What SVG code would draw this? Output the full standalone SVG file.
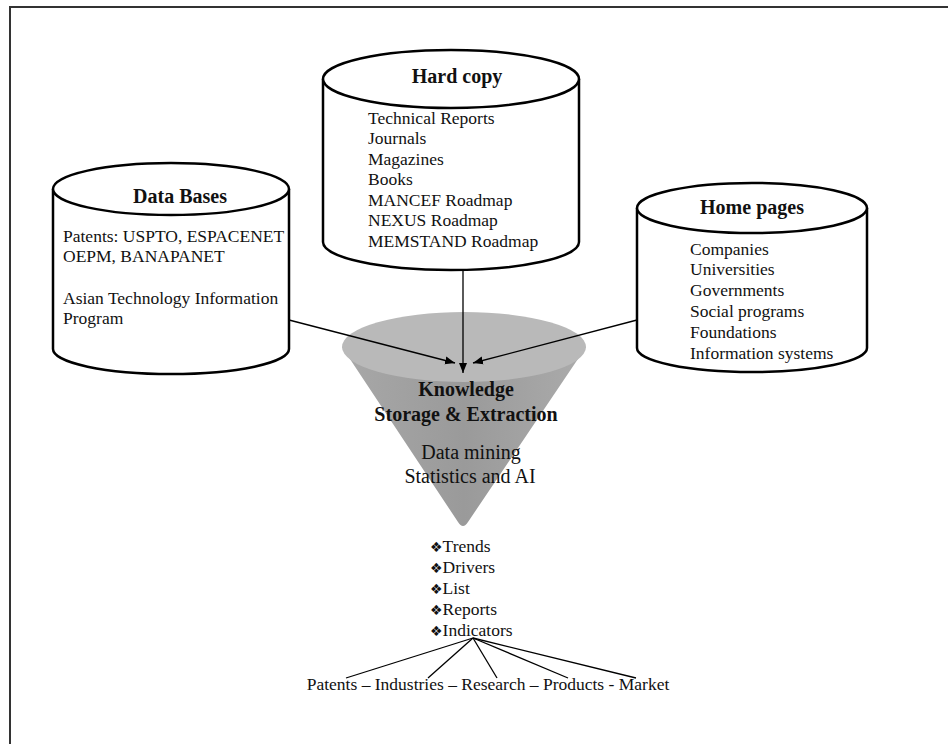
<svg xmlns="http://www.w3.org/2000/svg" width="948" height="744" viewBox="0 0 948 744">
<style>
.cyl{fill:#fff;stroke:#000;stroke-width:2.5}
.t{font-family:"Liberation Serif","DejaVu Serif",serif;font-size:17.5px;fill:#111}
.h{font-family:"Liberation Serif","DejaVu Serif",serif;font-size:20px;font-weight:bold;fill:#111;text-anchor:middle}
.c{font-family:"Liberation Serif","DejaVu Serif",serif;font-size:20px;fill:#111;text-anchor:middle}
.b{font-family:"DejaVu Sans",sans-serif;font-size:14px}
.ln{stroke:#000;stroke-width:1.3;fill:none}
</style>
<defs>
<marker id="ah" viewBox="0 0 10 10" refX="10" refY="5" markerWidth="10" markerHeight="10" markerUnits="userSpaceOnUse" orient="auto">
<path d="M0,1 L10,5 L0,9 z" fill="#000"/>
</marker>
<linearGradient id="cg" x1="0" y1="0" x2="1" y2="0">
<stop offset="0" stop-color="#a8a8a8"/>
<stop offset="0.5" stop-color="#9a9a9a"/>
<stop offset="1" stop-color="#ababab"/>
</linearGradient>
</defs>
<rect width="948" height="744" fill="#fff"/>
<path d="M10,744 L10,7 L948,7" fill="none" stroke="#333" stroke-width="2"/>

<g id="funnel">
<path d="M342,347 L458,522 Q463,530 468,522 L586,347 Z" fill="url(#cg)"/>
<ellipse cx="464" cy="347" rx="122" ry="35" fill="#b9b9b9"/>
<text class="h" x="466" y="396">Knowledge</text>
<text class="h" x="466" y="421">Storage &amp; Extraction</text>
<text class="c" x="471" y="459">Data mining</text>
<text class="c" x="470" y="483">Statistics and AI</text>
</g>

<g id="databases">
<path class="cyl" d="M53,189 L53,349 A118,25 0 0 0 289,349 L289,189"/>
<ellipse class="cyl" cx="171" cy="189" rx="118" ry="26"/>
<text class="h" x="180" y="203">Data Bases</text>
<text class="t" x="63" y="242">Patents: USPTO, ESPACENET</text>
<text class="t" x="63" y="262">OEPM, BANAPANET</text>
<text class="t" x="63" y="304">Asian Technology Information</text>
<text class="t" x="63" y="324">Program</text>
</g>

<g id="hardcopy">
<path class="cyl" d="M323,79 L323,242 A128,28 0 0 0 579,242 L579,79"/>
<ellipse class="cyl" cx="451" cy="79" rx="128" ry="29"/>
<text class="h" x="457" y="83">Hard copy</text>
<text class="t" x="368" y="124">Technical Reports</text>
<text class="t" x="368" y="144">Journals</text>
<text class="t" x="368" y="165">Magazines</text>
<text class="t" x="368" y="185">Books</text>
<text class="t" x="368" y="206">MANCEF Roadmap</text>
<text class="t" x="368" y="226">NEXUS Roadmap</text>
<text class="t" x="368" y="247">MEMSTAND Roadmap</text>
</g>

<g id="homepages">
<path class="cyl" d="M637,208 L637,348 A115,24 0 0 0 867,348 L867,208"/>
<ellipse class="cyl" cx="752" cy="208" rx="115" ry="25"/>
<text class="h" x="752" y="214">Home pages</text>
<text class="t" x="690" y="255">Companies</text>
<text class="t" x="690" y="275">Universities</text>
<text class="t" x="690" y="296">Governments</text>
<text class="t" x="690" y="317">Social programs</text>
<text class="t" x="690" y="338">Foundations</text>
<text class="t" x="690" y="359">Information systems</text>
</g>

<g id="outputs">
<text class="t" x="430" y="552"><tspan class="b">❖</tspan>Trends</text>
<text class="t" x="430" y="573"><tspan class="b">❖</tspan>Drivers</text>
<text class="t" x="430" y="594"><tspan class="b">❖</tspan>List</text>
<text class="t" x="430" y="615"><tspan class="b">❖</tspan>Reports</text>
<text class="t" x="430" y="636"><tspan class="b">❖</tspan>Indicators</text>
</g>

<g id="domains">
<text class="t" x="488" y="690" text-anchor="middle">Patents – Industries – Research – Products - Market</text>
</g>

<g id="connectors">
<line class="ln" x1="289" y1="320" x2="455" y2="363" marker-end="url(#ah)"/>
<line class="ln" x1="463" y1="270" x2="463" y2="373" marker-end="url(#ah)"/>
<line class="ln" x1="637" y1="320" x2="473" y2="363" marker-end="url(#ah)"/>
<line class="ln" x1="473" y1="638" x2="346" y2="678"/>
<line class="ln" x1="473" y1="638" x2="428" y2="678"/>
<line class="ln" x1="473" y1="638" x2="497" y2="678"/>
<line class="ln" x1="473" y1="638" x2="568" y2="678"/>
<line class="ln" x1="473" y1="638" x2="636" y2="678"/>
</g>
</svg>
